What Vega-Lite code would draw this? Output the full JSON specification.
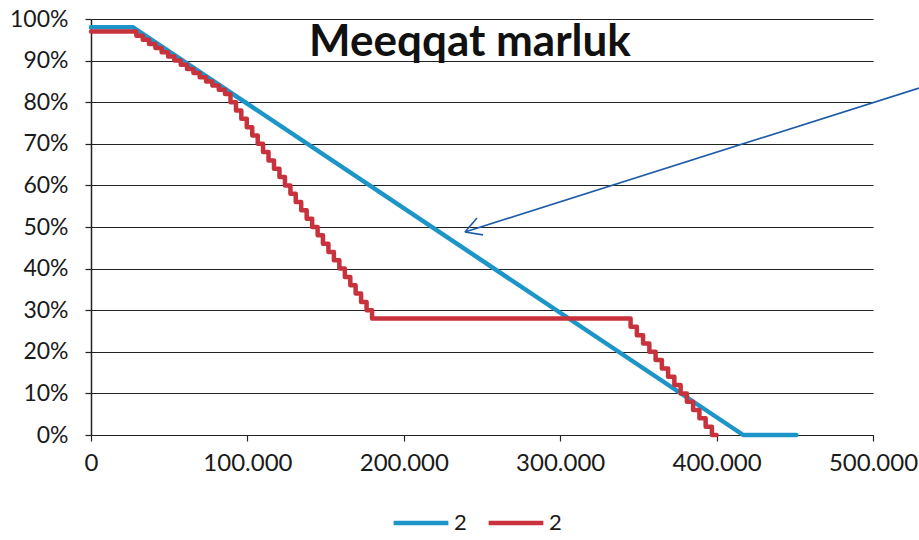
{
  "$schema": "https://vega.github.io/schema/vega-lite/v6.json",
  "width": 782,
  "height": 416,
  "autosize": {"type": "none"},
  "padding": {"left": 91, "top": 19, "right": 46, "bottom": 105},
  "background": "white",
  "config": {
    "view": {"stroke": null},
    "font": "Lato",
    "axis": {"labelFont": "Lato", "labelColor": "#1a1a1a", "titleFont": "Lato"},
    "legend": {"labelFont": "Lato", "labelFontSize": 22, "labelColor": "#1a1a1a"}
  },
  "datasets": {
    "series": [
      {"s": "blue", "x": 0, "y": 0.98},
      {"s": "blue", "x": 26900, "y": 0.98},
      {"s": "blue", "x": 417000, "y": 0.0},
      {"s": "blue", "x": 451000, "y": 0.0}
    ],
    "red": [
      {"s": "red", "x": 0, "y": 0.97},
      {"s": "red", "x": 25000, "y": 0.97},
      {"s": "red", "x": 29000, "y": 0.96},
      {"s": "red", "x": 33100, "y": 0.95},
      {"s": "red", "x": 37100, "y": 0.94},
      {"s": "red", "x": 41200, "y": 0.93},
      {"s": "red", "x": 45200, "y": 0.92},
      {"s": "red", "x": 49300, "y": 0.91},
      {"s": "red", "x": 53300, "y": 0.90},
      {"s": "red", "x": 57400, "y": 0.89},
      {"s": "red", "x": 61400, "y": 0.88},
      {"s": "red", "x": 65500, "y": 0.87},
      {"s": "red", "x": 69500, "y": 0.86},
      {"s": "red", "x": 73600, "y": 0.85},
      {"s": "red", "x": 77600, "y": 0.84},
      {"s": "red", "x": 81700, "y": 0.83},
      {"s": "red", "x": 85700, "y": 0.82},
      {"s": "red", "x": 89200, "y": 0.80},
      {"s": "red", "x": 92700, "y": 0.78},
      {"s": "red", "x": 96100, "y": 0.76},
      {"s": "red", "x": 99600, "y": 0.74},
      {"s": "red", "x": 103100, "y": 0.72},
      {"s": "red", "x": 106600, "y": 0.70},
      {"s": "red", "x": 110000, "y": 0.68},
      {"s": "red", "x": 113500, "y": 0.66},
      {"s": "red", "x": 117000, "y": 0.64},
      {"s": "red", "x": 120500, "y": 0.62},
      {"s": "red", "x": 124000, "y": 0.60},
      {"s": "red", "x": 127500, "y": 0.58},
      {"s": "red", "x": 130900, "y": 0.56},
      {"s": "red", "x": 134400, "y": 0.54},
      {"s": "red", "x": 137900, "y": 0.52},
      {"s": "red", "x": 141400, "y": 0.50},
      {"s": "red", "x": 144900, "y": 0.48},
      {"s": "red", "x": 148300, "y": 0.46},
      {"s": "red", "x": 151800, "y": 0.44},
      {"s": "red", "x": 155300, "y": 0.42},
      {"s": "red", "x": 158800, "y": 0.40},
      {"s": "red", "x": 162300, "y": 0.38},
      {"s": "red", "x": 165800, "y": 0.36},
      {"s": "red", "x": 169200, "y": 0.34},
      {"s": "red", "x": 172700, "y": 0.32},
      {"s": "red", "x": 176200, "y": 0.30},
      {"s": "red", "x": 179700, "y": 0.28},
      {"s": "red", "x": 345000, "y": 0.26},
      {"s": "red", "x": 349000, "y": 0.24},
      {"s": "red", "x": 353000, "y": 0.22},
      {"s": "red", "x": 357000, "y": 0.20},
      {"s": "red", "x": 361000, "y": 0.18},
      {"s": "red", "x": 365000, "y": 0.16},
      {"s": "red", "x": 369000, "y": 0.14},
      {"s": "red", "x": 373000, "y": 0.12},
      {"s": "red", "x": 377000, "y": 0.10},
      {"s": "red", "x": 381000, "y": 0.08},
      {"s": "red", "x": 385000, "y": 0.06},
      {"s": "red", "x": 389000, "y": 0.04},
      {"s": "red", "x": 393000, "y": 0.02},
      {"s": "red", "x": 397000, "y": 0.0},
      {"s": "red", "x": 400000, "y": 0.0}
    ],
    "arrow": [
      {"x": 529400, "y": 0.834, "x2": 239100, "y2": 0.488},
      {"x": 239100, "y": 0.488, "x2": 246800, "y2": 0.5216},
      {"x": 239100, "y": 0.488, "x2": 250600, "y2": 0.481}
    ],
    "title": [
      {"x": 242300, "y": 0.942, "label": "Meeqqat marluk"}
    ]
  },
  "layer": [
    {
      "data": {"name": "series"},
      "mark": {"type": "line", "strokeWidth": 4.5, "strokeJoin": "round", "strokeCap": "round"},
      "encoding": {
        "x": {
          "field": "x", "type": "quantitative",
          "scale": {"domain": [0, 500000], "nice": false},
          "axis": {
            "title": null, "grid": false,
            "values": [0, 100000, 200000, 300000, 400000, 500000],
            "labelExpr": "datum.value == 0 ? '0' : format(datum.value / 1000, 'd') + '.000'",
            "labelFontSize": 24, "labelFlush": false,
            "domainColor": "#222", "domainWidth": 1.2,
            "tickColor": "#222", "tickWidth": 1.2, "tickSize": 6,
            "labelPadding": 10
          }
        },
        "y": {
          "field": "y", "type": "quantitative",
          "scale": {"domain": [0, 1], "nice": false},
          "axis": {
            "title": null,
            "values": [0, 0.1, 0.2, 0.3, 0.4, 0.5, 0.6, 0.7, 0.8, 0.9, 1.0],
            "format": ".0%",
            "labelFontSize": 23,
            "grid": true, "gridColor": "#222", "gridWidth": 1.2, "gridOpacity": 1,
            "domainColor": "#222", "domainWidth": 1.5,
            "tickColor": "#222", "tickWidth": 1.2, "tickSize": 6,
            "labelPadding": 17
          }
        },
        "color": {
          "field": "s", "type": "nominal",
          "scale": {"domain": ["blue", "red"], "range": ["#1e95c8", "#c8323c"]},
          "legend": {
            "title": null, "orient": "none", "direction": "horizontal",
            "legendX": 300, "legendY": 474,
            "symbolType": "stroke", "symbolSize": 3000, "symbolStrokeWidth": 4.5,
            "labelExpr": "'2'", "columnPadding": 12, "labelOffset": 3
          }
        }
      }
    },
    {
      "data": {"name": "red"},
      "mark": {"type": "line", "strokeWidth": 4.5, "interpolate": "step-after", "strokeJoin": "round", "strokeCap": "round"},
      "encoding": {
        "x": {"field": "x", "type": "quantitative"},
        "y": {"field": "y", "type": "quantitative"},
        "color": {"field": "s", "type": "nominal"}
      }
    },
    {
      "data": {"name": "arrow"},
      "mark": {"type": "rule", "color": "#1f5ca8", "strokeWidth": 1.6, "clip": false},
      "encoding": {
        "x": {"field": "x", "type": "quantitative"},
        "y": {"field": "y", "type": "quantitative"},
        "x2": {"field": "x2"},
        "y2": {"field": "y2"}
      }
    },
    {
      "data": {"name": "title"},
      "mark": {"type": "text", "font": "Lato", "fontWeight": "bold", "fontSize": 44, "color": "#111", "align": "center", "baseline": "middle"},
      "encoding": {
        "x": {"field": "x", "type": "quantitative"},
        "y": {"field": "y", "type": "quantitative"},
        "text": {"field": "label"}
      }
    }
  ]
}
